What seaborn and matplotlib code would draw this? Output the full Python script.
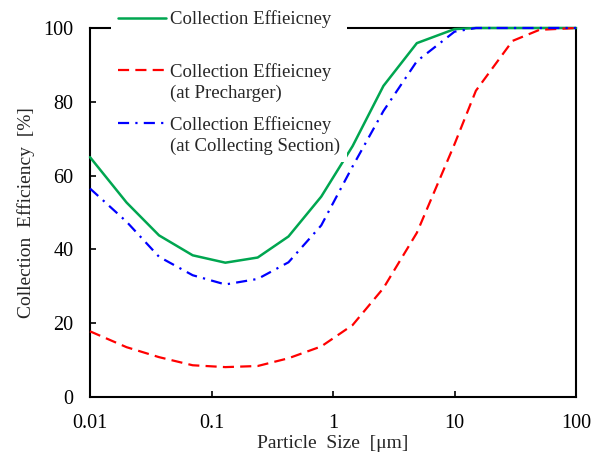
import numpy as np
import pandas as pd
import matplotlib
matplotlib.use("Agg")
import matplotlib.pyplot as plt
import seaborn as sns
from matplotlib.legend_handler import HandlerLine2D

# particle size [um] and collection efficiency [%]
size_um = [0.01, 0.02, 0.037, 0.07, 0.13, 0.24, 0.43, 0.8, 1.45, 2.6, 4.9, 10, 15, 30, 50, 100]
eff_total = [65, 52.7, 43.8, 38.4, 36.4, 37.8, 43.5, 54.3, 68, 84.3, 95.9, 99.7, 100, 100, 100, 100]
eff_prech = [17.8, 13.5, 10.8, 8.6, 8.1, 8.4, 10.5, 13.7, 19.5, 29.5, 44.5, 68.5, 83, 96.5, 99.5, 100]
eff_coll = [56.5, 47.5, 38, 33, 30.5, 32, 36.5, 46.5, 62.5, 77.5, 91, 99, 100, 100, 100, 100]

labels = ["Collection Effieicney\n ",
          "Collection Effieicney\n(at Precharger)",
          "Collection Effieicney\n(at Collecting Section)"]

sns.set_theme(style="ticks")
plt.rcParams["font.family"] = ["Liberation Serif", "DejaVu Serif"]

fig, ax = plt.subplots(figsize=(6.03, 4.58), dpi=100)
fig.subplots_adjust(left=90/603, right=576/603, bottom=1-397/458, top=1-28/458)

sns.lineplot(x=size_um, y=eff_total, ax=ax, color="#00A650", lw=1.8,
             label=labels[0], zorder=3, clip_on=False)
sns.lineplot(x=size_um, y=eff_prech, ax=ax, color="#FF0000", lw=1.6,
             label=labels[1], zorder=3, clip_on=False)
sns.lineplot(x=size_um, y=eff_coll, ax=ax, color="#0000FF", lw=1.6,
             label=labels[2], zorder=3, clip_on=False)
ax.lines[1].set_dashes((5, 2.8))
ax.lines[2].set_dashes((5, 2.8, 1, 2.8))

ax.set_xscale("log")
ax.set_xlim(0.01, 100)
ax.set_ylim(0, 100)
ax.set_xticks([0.01, 0.1, 1, 10, 100])
ax.set_xticklabels(["0.01", "0.1", "1", "10", "100"])
ax.xaxis.set_minor_locator(matplotlib.ticker.NullLocator())
ax.set_yticks([0, 20, 40, 60, 80, 100])

ax.tick_params(axis="both", direction="in", length=4.5, width=1.2, labelsize=14.5,
               colors="black")
ax.tick_params(axis="x", pad=12.5)
ax.tick_params(axis="y", pad=12)
for s in ax.spines.values():
    s.set_linewidth(1.5)
    s.set_color("black")

ax.set_xlabel("Particle  Size  [\u03bcm]", fontsize=14, labelpad=1.5)
ax.set_ylabel("Collection  Efficiency  [%]", fontsize=14, labelpad=6)


# put the legend handle next to the first line of each label
class FirstLineHandler(HandlerLine2D):
    def create_artists(self, legend, orig_handle, xdescent, ydescent, width, height, fontsize, trans):
        arts = super().create_artists(legend, orig_handle, xdescent, ydescent, width, height, fontsize, trans)
        for a in arts:
            a.set_ydata(np.asarray(a.get_ydata(), dtype=float) + 0.66 * fontsize)
        return arts


leg = ax.legend(loc="upper left", bbox_to_anchor=(111/603, 1 - 3.5/458),
                bbox_transform=fig.transFigure, fontsize=13.5, frameon=True,
                fancybox=False, framealpha=1, facecolor="white", edgecolor="none",
                handlelength=2.56, handletextpad=0.2, borderpad=0.37, labelspacing=0.72,
                borderaxespad=0, handler_map={matplotlib.lines.Line2D: FirstLineHandler()})
for t in leg.get_texts():
    t.set_linespacing(1.32)
leg.set_zorder(5)

plt.savefig("out.png", dpi=100)
